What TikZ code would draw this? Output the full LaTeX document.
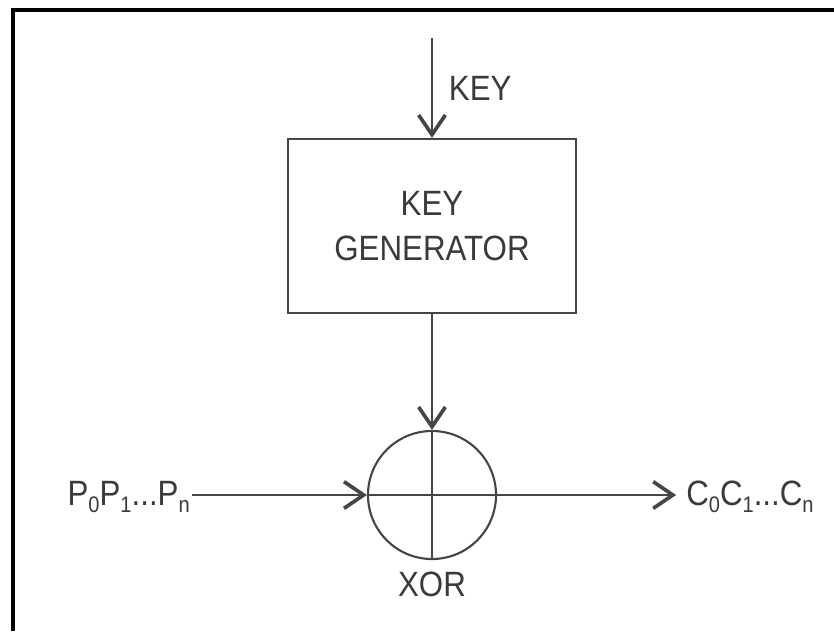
\documentclass[tikz,border=0pt]{standalone}
\usepackage{fontspec}
\setmainfont{Liberation Sans}[FakeStretch=0.89]
\usetikzlibrary{arrows.meta,positioning}
\definecolor{kgink}{HTML}{3A3A3A}
\definecolor{kgline}{HTML}{454545}
\newcommand{\kgsub}[1]{\raisebox{-5pt}{\fontsize{16}{16}\selectfont #1}}
\tikzset{
  kg text/.style={font=\fontsize{25}{30}\selectfont, text=kgink},
  kg box/.style={draw=kgline, line width=1.5pt, minimum width=7.2cm, minimum height=4.35cm,
    inner sep=0pt, align=center, kg text},
  kg xor/.style={draw=kgline, line width=1.5pt, circle, minimum size=3.2cm, inner sep=0pt},
  kg arrow/.style={-{Straight Barb[length=14pt,width=19pt,line width=2.6pt]},
    line width=1.6pt, draw=kgline},
  kg line/.style={line width=1.6pt, draw=kgline},
  kg frame/.style={draw=black, line width=2.4pt}
}
\begin{document}
\begin{tikzpicture}[kg text, x=0.025cm, y=-0.025cm]
  \useasboundingbox (0,0) rectangle (834,631);
  \draw[kg frame] (13,631) -- (13,10) -- (834,10);
  \node[kg box] (gen) at (432,226) {KEY\\[2pt]GENERATOR};
  \node[kg xor] (xor) at (432,495) {};
  \coordinate (keyin) at (432,38);
  \node[anchor=west] (keylbl) at (444,88) {KEY};
  \node[anchor=east, inner sep=0pt] (plain) at (190,497) {P\kgsub{0}P\kgsub{1}...P\kgsub{n}};
  \node[anchor=west, inner sep=0pt] (cipher) at (686,497) {C\kgsub{0}C\kgsub{1}...C\kgsub{n}};
  \node[below=5pt of xor] (xorlbl) {XOR};
  % connectors
  \draw[kg arrow] (keyin) -- (gen.north);
  \draw[kg arrow] (gen.south) -- (xor.north);
  \draw[kg arrow] (plain.east) ++(2,-2) coordinate (pin) (pin) -- (xor.west);
  \draw[kg line] (xor.north) -- (xor.south);
  \draw[kg line] (xor.west) -- (xor.east);
  \draw[kg arrow, shorten >=7pt] (xor.east) -- (cipher.west |- xor.east);
\end{tikzpicture}
\end{document}
